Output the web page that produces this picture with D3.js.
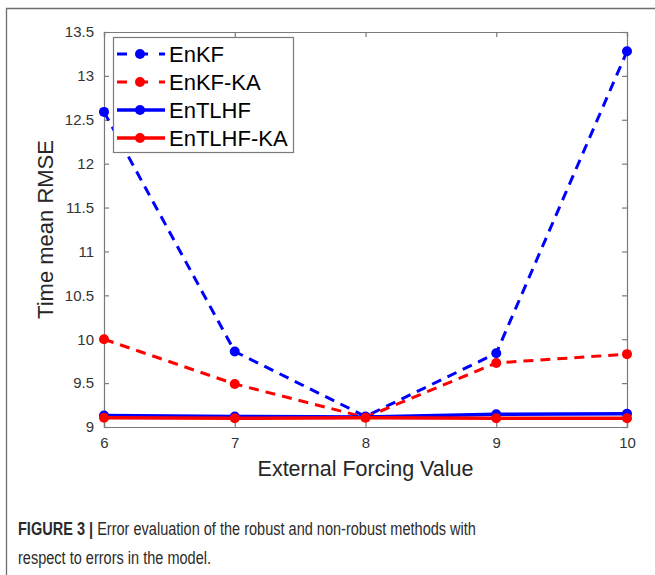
<!DOCTYPE html>
<html>
<head>
<meta charset="utf-8">
<script src="https://cdn.jsdelivr.net/npm/d3@7"></script>
<style>
  html, body { margin: 0; padding: 0; background: #fff; }
  svg { display: block; }
</style>
</head>
<body>
<svg id="chart" width="655" height="575"></svg>
<script>
// External forcing values on the x axis
const forcing = [6, 7, 8, 9, 10];

// Time-mean RMSE for each filter
const enkf      = [12.59, 9.86, 9.12, 9.84, 13.28];
const enkfKA    = [10.00, 9.49, 9.11, 9.73, 9.83];
const entlhf    = [9.13, 9.12, 9.115, 9.145, 9.15];
const entlhfKA  = [9.105, 9.10, 9.105, 9.10, 9.10];

const seriesNames = ["EnKF", "EnKF-KA", "EnTLHF", "EnTLHF-KA"];
const seriesValues = [enkf, enkfKA, entlhf, entlhfKA];
const seriesColors = ["#0000ff", "#ff0000", "#0000ff", "#ff0000"];
const seriesDashed = [true, true, false, false];

const xTicks = [6, 7, 8, 9, 10];
const yTicks = [9, 9.5, 10, 10.5, 11, 11.5, 12, 12.5, 13, 13.5];

const xLabel = "External Forcing Value";
const yLabel = "Time mean RMSE";
const captionBold = "FIGURE 3 |";
const captionLine1 = " Error evaluation of the robust and non-robust methods with";
const captionLine2 = "respect to errors in the model.";

const svg = d3.select("#chart");
const plot = { left: 104, right: 627, top: 32, bottom: 427 };

const x = d3.scaleLinear().domain([6, 10]).range([plot.left, plot.right]);
const y = d3.scaleLinear().domain([9, 13.5]).range([plot.bottom, plot.top]);

// Figure frame (top and left edges)
svg.append("path")
  .attr("d", "M6.5,580 L6.5,8.5 L660,8.5")
  .attr("fill", "none")
  .attr("stroke", "#6e6e6e")
  .attr("stroke-width", 1.3);

const axisColor = "#7a7a7a";
const tickText = "#333";
const font = "'Liberation Sans', Arial, Helvetica, sans-serif";

// Axes with inward ticks on all four sides
const gx = svg.append("g").attr("transform", `translate(0,${plot.bottom})`)
  .call(d3.axisBottom(x).tickValues(xTicks).tickSize(-5).tickPadding(10).tickFormat(d3.format("d")));
const gxTop = svg.append("g").attr("transform", `translate(0,${plot.top})`)
  .call(d3.axisTop(x).tickValues(xTicks).tickSize(-5).tickFormat(""));
const gy = svg.append("g").attr("transform", `translate(${plot.left},0)`)
  .call(d3.axisLeft(y).tickValues(yTicks).tickSize(-5).tickPadding(10).tickFormat(d => String(d)));
const gyRight = svg.append("g").attr("transform", `translate(${plot.right},0)`)
  .call(d3.axisRight(y).tickValues(yTicks).tickSize(-5).tickFormat(""));

[gx, gxTop, gy, gyRight].forEach(g => {
  g.select(".domain").attr("stroke", axisColor).attr("stroke-width", 1.2);
  g.selectAll(".tick line").attr("stroke", axisColor).attr("stroke-width", 1.2);
  g.selectAll(".tick text").attr("fill", tickText).style("font-family", font).style("font-size", "15px");
});

// Data lines
const line = d3.line().x((d, i) => x(forcing[i])).y(d => y(d));

seriesValues.forEach((vals, s) => {
  const g = svg.append("g");
  g.append("path")
    .datum(vals)
    .attr("d", line)
    .attr("fill", "none")
    .attr("stroke", seriesColors[s])
    .attr("stroke-width", seriesDashed[s] ? 3 : 3.5)
    .attr("stroke-dasharray", seriesDashed[s] ? "10,7" : null);
  g.selectAll("circle")
    .data(vals)
    .join("circle")
    .attr("cx", (d, i) => x(forcing[i]))
    .attr("cy", d => y(d))
    .attr("r", 5)
    .attr("fill", seriesColors[s]);
});

// Axis titles
svg.append("text")
  .attr("x", (plot.left + plot.right) / 2)
  .attr("y", 476)
  .attr("text-anchor", "middle")
  .attr("fill", "#262626")
  .style("font-family", font)
  .style("font-size", "21.5px")
  .text(xLabel);

svg.append("text")
  .attr("transform", `translate(53,${(plot.top + plot.bottom) / 2}) rotate(-90)`)
  .attr("text-anchor", "middle")
  .attr("fill", "#262626")
  .style("font-family", font)
  .style("font-size", "22px")
  .text(yLabel);

// Legend
const legend = { x: 113, y: 37, w: 180, h: 115 };
svg.append("rect")
  .attr("x", legend.x + 0.5).attr("y", legend.y + 0.5)
  .attr("width", legend.w).attr("height", legend.h)
  .attr("fill", "#fff")
  .attr("stroke", axisColor)
  .attr("stroke-width", 1.2);

seriesNames.forEach((name, s) => {
  const cy = legend.y + 17 + s * 28;
  svg.append("line")
    .attr("x1", legend.x + 4).attr("x2", legend.x + 52)
    .attr("y1", cy).attr("y2", cy)
    .attr("stroke", seriesColors[s])
    .attr("stroke-width", seriesDashed[s] ? 3 : 3.5)
    .attr("stroke-dasharray", seriesDashed[s] ? "10,11" : null);
  svg.append("circle")
    .attr("cx", legend.x + 27).attr("cy", cy).attr("r", 5)
    .attr("fill", seriesColors[s]);
  svg.append("text")
    .attr("x", legend.x + 56)
    .attr("y", cy + 7.5)
    .attr("fill", "#000")
    .style("font-family", font)
    .style("font-size", "22px")
    .text(name);
});

// Caption, set in a condensed face by narrowing the regular sans
const capFont = "'Liberation Sans', Arial, sans-serif";
const capScale = 0.786;
const capGroup = svg.append("g")
  .attr("transform", `translate(18,0) scale(${capScale},1)`);

const cap1 = capGroup.append("text")
  .attr("x", 0).attr("y", 535)
  .attr("fill", "#2b2b2b")
  .style("font-family", capFont)
  .style("font-size", "18.5px");
cap1.append("tspan").attr("font-weight", "bold").text(captionBold);
cap1.append("tspan").text(captionLine1);

capGroup.append("text")
  .attr("x", 0).attr("y", 564)
  .attr("fill", "#2b2b2b")
  .style("font-family", capFont)
  .style("font-size", "18.5px")
  .text(captionLine2);
</script>
</body>
</html>
